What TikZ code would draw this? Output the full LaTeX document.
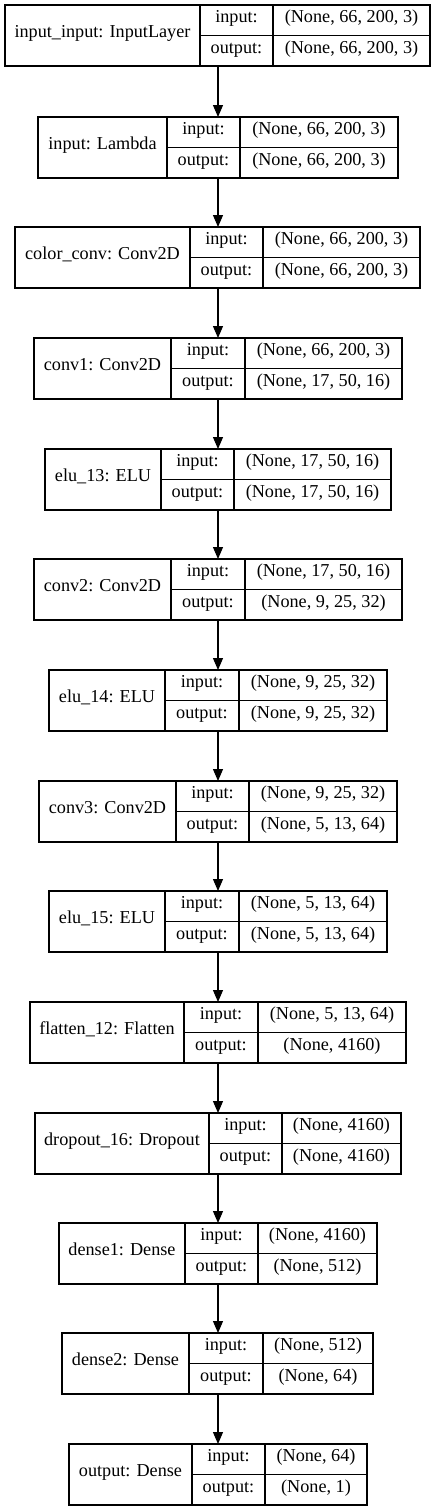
\documentclass[tikz,border=0pt]{standalone}
\usepackage{fontspec}
\setmainfont{Liberation Serif}
\usetikzlibrary{arrows.meta}
\tikzset{
  layerbox/.style={draw, line width=1.2pt, inner sep=0pt, outer sep=0pt},
  cellline/.style={line width=1.2pt},
  celltext/.style={inner sep=0pt, text height=0.72em, text depth=0.24em},
  flowarrow/.style={line width=1.2pt, -{Triangle[length=12pt,width=10pt]}},
}
\newcommand\nnlayer[9]{%
  \node[layerbox, minimum width={(#6-#3)*1pt}, minimum height=61pt] (#1) at ({(#3+#6)/2},{#2+30.5}) {};
  \draw[cellline] (#4,#2) -- (#4,#2+61);
  \draw[cellline] (#5,#2) -- (#5,#2+61);
  \draw[cellline] (#4,#2+30.5) -- (#6,#2+30.5);
  \node[celltext] (#1-name) at ({(#3+#4)/2},{#2+30.5}) {#7};
  \node[celltext] (#1-ilab) at ({(#4+#5)/2},{#2+15.5}) {input:};
  \node[celltext] (#1-olab) at ({(#4+#5)/2},{#2+46}) {output:};
  \node[celltext] (#1-ival) at ({(#5+#6)/2},{#2+15.5}) {#8};
  \node[celltext] (#1-oval) at ({(#5+#6)/2},{#2+46}) {#9};
}
\begin{document}
\begin{tikzpicture}[x=1pt,y=-1pt,font=\fontsize{18.2}{22}\selectfont]
\useasboundingbox[fill=white] (0,0) rectangle (436,1512);
\nnlayer{L1}{5}{5}{200}{273}{430}{input\_input: InputLayer}{(None, 66, 200, 3)}{(None, 66, 200, 3)}
\nnlayer{L2}{117}{38}{167}{240}{398}{input: Lambda}{(None, 66, 200, 3)}{(None, 66, 200, 3)}
\nnlayer{L3}{227}{15}{190}{263}{420}{color\_conv: Conv2D}{(None, 66, 200, 3)}{(None, 66, 200, 3)}
\nnlayer{L4}{338}{34}{171}{245}{402}{conv1: Conv2D}{(None, 66, 200, 3)}{(None, 17, 50, 16)}
\nnlayer{L5}{449}{45}{161}{234}{391}{elu\_13: ELU}{(None, 17, 50, 16)}{(None, 17, 50, 16)}
\nnlayer{L6}{559}{34}{171}{245}{402}{conv2: Conv2D}{(None, 17, 50, 16)}{(None, 9, 25, 32)}
\nnlayer{L7}{670}{49}{165}{239}{387}{elu\_14: ELU}{(None, 9, 25, 32)}{(None, 9, 25, 32)}
\nnlayer{L8}{781}{39}{176}{249}{397}{conv3: Conv2D}{(None, 9, 25, 32)}{(None, 5, 13, 64)}
\nnlayer{L9}{891}{49}{165}{239}{387}{elu\_15: ELU}{(None, 5, 13, 64)}{(None, 5, 13, 64)}
\nnlayer{L10}{1002}{30}{184}{258}{406}{flatten\_12: Flatten}{(None, 5, 13, 64)}{(None, 4160)}
\nnlayer{L11}{1113}{35}{209}{282}{401}{dropout\_16: Dropout}{(None, 4160)}{(None, 4160)}
\nnlayer{L12}{1223}{59}{185}{258}{377}{dense1: Dense}{(None, 4160)}{(None, 512)}
\nnlayer{L13}{1333}{62}{189}{263}{373}{dense2: Dense}{(None, 512)}{(None, 64)}
\nnlayer{L14}{1444}{69}{192}{265}{367}{output: Dense}{(None, 64)}{(None, 1)}
\foreach \a/\b in {L1/L2,L2/L3,L3/L4,L4/L5,L5/L6,L6/L7,L7/L8,L8/L9,L9/L10,L10/L11,L11/L12,L12/L13,L13/L14}{
  \draw[flowarrow] (218,0 |- \a.south) -- (218,0 |- \b.north);
}
\end{tikzpicture}
\end{document}
